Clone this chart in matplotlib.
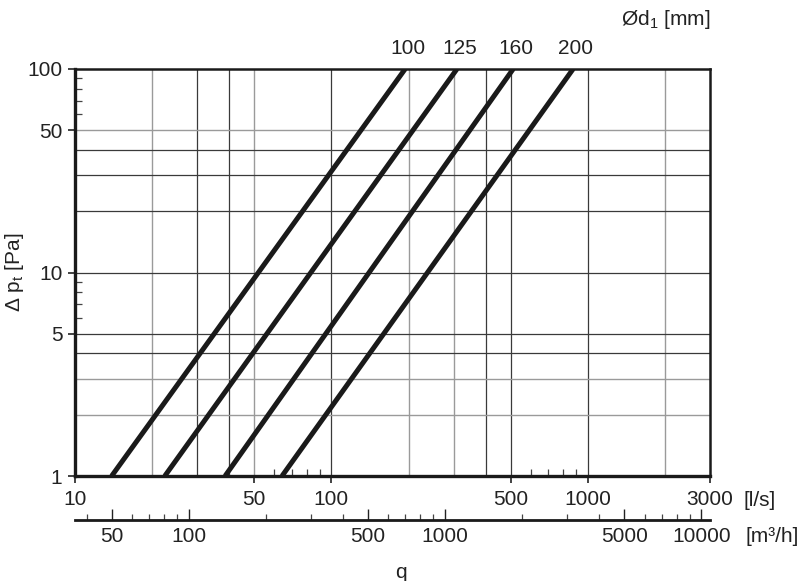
import numpy as np
import matplotlib
matplotlib.use("Agg")
import matplotlib.pyplot as plt
from matplotlib.ticker import FixedLocator, NullFormatter, FixedFormatter

plt.rcParams['font.family'] = ['Liberation Sans', 'DejaVu Sans']
plt.rcParams['mathtext.fontset'] = 'custom'
plt.rcParams['mathtext.rm'] = 'Liberation Sans'
plt.rcParams['mathtext.it'] = 'Liberation Sans'

# duct diameters [mm] and flow (l/s) where each line hits 1 Pa and 100 Pa
diameters = ["100", "125", "160", "200"]
q_at_1pa = [13.9, 22.4, 38.5, 64.2]
q_at_100pa = [194, 309, 512, 877]
dp_ends = [1, 100]

# axes ticks
x_major = [10, 50, 100, 500, 1000, 3000]
x_minor = [60, 70, 80, 90, 600, 700, 800, 900]
y_major = [1, 5, 10, 50, 100]
y_minor = [6, 7, 8, 9, 60, 70, 80, 90]
m3h_major = [50, 100, 500, 1000, 5000, 10000]
m3h_minor = [40, 60, 70, 80, 90, 200, 300, 400, 600, 700, 800, 900,
             2000, 3000, 4000, 6000, 7000, 8000, 9000]

# grid lines (dark / light)
xgrid_dark = [30, 40, 100, 400, 500, 1000]
xgrid_light = [20, 50, 200, 300, 2000]
ygrid_dark = [4, 5, 10, 20, 30, 40]
ygrid_light = [2, 3, 50]

FS = 15
TC = '#222222'

W, H = 805, 581
fig = plt.figure(figsize=(W / 100, H / 100), dpi=100)
x0, x1, y0, y1 = 75, 710, 69, 476
ax = fig.add_axes([x0 / W, 1 - y1 / H, (x1 - x0) / W, (y1 - y0) / H])
ax.set_xscale('log')
ax.set_yscale('log')
ax.set_xlim(10, 3000)
ax.set_ylim(1, 100)

for v in xgrid_dark:
    ax.axvline(v, color='#3a3a3a', lw=0.9, zorder=1)
for v in xgrid_light:
    ax.axvline(v, color='#9a9a9a', lw=1.0, zorder=1)
for v in ygrid_dark:
    ax.axhline(v, color='#3a3a3a', lw=0.9, zorder=1)
for v in ygrid_light:
    ax.axhline(v, color='#9a9a9a', lw=1.0, zorder=1)

for name, qa, qb in zip(diameters, q_at_1pa, q_at_100pa):
    ax.plot([qa, qb], dp_ends, color='#1a1a1a', lw=3.6, solid_capstyle='butt', zorder=3)
    ax.annotate(name, (qb, 100), xytext=(2, 11), textcoords='offset points',
                ha='center', va='baseline', fontsize=FS, color=TC)

ax.text(1.0, 1.107, 'Ød$_1$ [mm]', transform=ax.transAxes, ha='right', va='baseline',
        fontsize=FS, color=TC)

ax.xaxis.set_major_locator(FixedLocator(x_major))
ax.xaxis.set_major_formatter(FixedFormatter([str(v) for v in x_major]))
ax.xaxis.set_minor_locator(FixedLocator(x_minor))
ax.xaxis.set_minor_formatter(NullFormatter())
ax.yaxis.set_major_locator(FixedLocator(y_major))
ax.yaxis.set_major_formatter(FixedFormatter([str(v) for v in y_major]))
ax.yaxis.set_minor_locator(FixedLocator(y_minor))
ax.yaxis.set_minor_formatter(NullFormatter())

ax.tick_params(which='major', direction='out', length=5, width=1.2, labelsize=FS,
               colors=TC, pad=5)
ax.tick_params(which='minor', direction='in', length=5, width=0.9, colors='#444444')
ax.tick_params(axis='y', which='major', pad=4)

for s in ['left', 'bottom']:
    ax.spines[s].set_linewidth(2.4)
for s in ['top', 'right']:
    ax.spines[s].set_linewidth(1.8)
for s in ax.spines.values():
    s.set_color('#1a1a1a')

ax.set_ylabel('Δ p$_\\mathrm{t}$ [Pa]', fontsize=FS, color=TC)
ax.yaxis.set_label_coords(-49 / 635, 0.5)

# second flow axis in m3/h
sec = ax.secondary_xaxis(-44 / 407, functions=(lambda x: x * 3.6, lambda x: x / 3.6))
sec.xaxis.set_major_locator(FixedLocator(m3h_major))
sec.xaxis.set_major_formatter(FixedFormatter([str(v) for v in m3h_major]))
sec.xaxis.set_minor_locator(FixedLocator(m3h_minor))
sec.xaxis.set_minor_formatter(NullFormatter())
sec.tick_params(which='major', direction='in', length=8, width=1.0, labelsize=FS,
                colors=TC, pad=5)
sec.tick_params(which='minor', direction='in', length=4, width=0.9, colors='#444444')
sec.spines['bottom'].set_linewidth(2.0)
sec.spines['bottom'].set_color('#1a1a1a')

fig.text(743 / W, 1 - 500 / H, '[l/s]', ha='left', va='center', fontsize=FS, color=TC)
fig.text(745 / W, 1 - 537 / H, '[m³/h]', ha='left', va='center', fontsize=FS, color=TC)
fig.text(401 / W, 1 - 572 / H, 'q', ha='center', va='center', fontsize=FS, color=TC)

fig.savefig('out.png', dpi=100)
